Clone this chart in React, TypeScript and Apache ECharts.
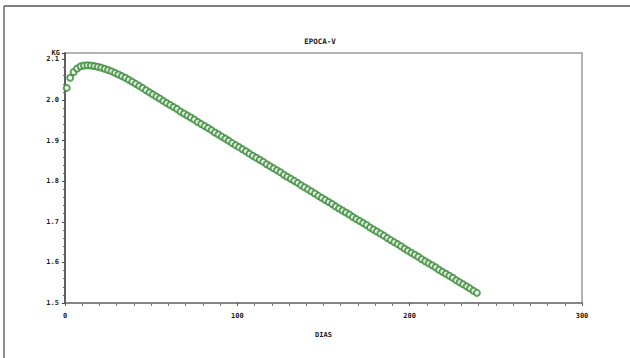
import React, { useEffect, useRef } from "react";
import * as echarts from "echarts";

// Weight (KG) by day (DIAS)
const days = [
  1, 3, 5, 7, 9, 11, 13, 15, 17, 19, 21, 23, 25, 27, 29, 31, 33, 35, 37, 39,
  41, 43, 45, 47, 49, 51, 53, 55, 57, 59, 61, 63, 65, 67, 69, 71, 73, 75, 77, 79,
  81, 83, 85, 87, 89, 91, 93, 95, 97, 99, 101, 103, 105, 107, 109, 111, 113, 115, 117, 119,
  121, 123, 125, 127, 129, 131, 133, 135, 137, 139, 141, 143, 145, 147, 149, 151, 153, 155, 157, 159,
  161, 163, 165, 167, 169, 171, 173, 175, 177, 179, 181, 183, 185, 187, 189, 191, 193, 195, 197, 199,
  201, 203, 205, 207, 209, 211, 213, 215, 217, 219, 221, 223, 225, 227, 229, 231, 233, 235, 237, 239,
];
const kg = [
  2.030, 2.055, 2.069, 2.078, 2.083, 2.085, 2.086, 2.085, 2.084, 2.082,
  2.080, 2.077, 2.074, 2.071, 2.067, 2.063, 2.059, 2.055, 2.050, 2.045,
  2.040, 2.035, 2.030, 2.024, 2.019, 2.014, 2.009, 2.004, 1.998, 1.993,
  1.988, 1.983, 1.978, 1.972, 1.967, 1.962, 1.957, 1.952, 1.946, 1.941,
  1.936, 1.931, 1.926, 1.920, 1.915, 1.910, 1.905, 1.900, 1.894, 1.889,
  1.884, 1.879, 1.874, 1.868, 1.863, 1.858, 1.853, 1.848, 1.842, 1.837,
  1.832, 1.827, 1.822, 1.816, 1.811, 1.806, 1.801, 1.796, 1.790, 1.785,
  1.780, 1.775, 1.770, 1.764, 1.759, 1.754, 1.749, 1.744, 1.738, 1.733,
  1.728, 1.723, 1.718, 1.712, 1.707, 1.702, 1.697, 1.692, 1.686, 1.681,
  1.676, 1.671, 1.666, 1.660, 1.655, 1.650, 1.645, 1.640, 1.634, 1.629,
  1.624, 1.619, 1.614, 1.608, 1.603, 1.598, 1.593, 1.588, 1.582, 1.577,
  1.572, 1.567, 1.562, 1.556, 1.551, 1.546, 1.541, 1.536, 1.530, 1.525,
];
const xTicks = [0, 100, 200, 300];
const yTicks = [1.5, 1.6, 1.7, 1.8, 1.9, 2.0, 2.1];

const titleText = "EPOCA-V";
const xName = "DIAS";
const yName = "KG";

const labelFont = {
  fontFamily: "DejaVu Sans Mono",
  fontWeight: "bold" as const,
  fontSize: 7,
  color: "#1a1a1a",
};

export default function App() {
  const ref = useRef<HTMLDivElement>(null);

  useEffect(() => {
    if (!ref.current) return;
    const chart = echarts.init(ref.current, null, { renderer: "svg" });
    const points = days.map((d, i) => [d, kg[i]]);

    chart.setOption({
      animation: false,
      backgroundColor: "#fff",
      title: {
        text: titleText,
        left: 315,
        top: 32,
        textAlign: "center",
        textStyle: { ...labelFont, fontSize: 7.5 },
      },
      grid: {
        left: 65,
        right: 48,
        top: 53,
        bottom: 55,
        show: true,
        borderColor: "#9a9a9a",
        borderWidth: 1.5,
      },
      xAxis: {
        type: "value",
        min: xTicks[0],
        max: xTicks[xTicks.length - 1],
        interval: 100,
        name: xName,
        nameLocation: "middle",
        nameGap: 28,
        nameTextStyle: labelFont,
        axisLine: { show: true, lineStyle: { color: "#777", width: 1.5 } },
        axisTick: { show: true, length: 3, lineStyle: { color: "#555" } },
        minorTick: { show: true, splitNumber: 10, length: 3, lineStyle: { color: "#777" } },
        axisLabel: { ...labelFont, margin: 9 },
        splitLine: { show: false },
      },
      yAxis: {
        type: "value",
        min: yTicks[0],
        max: 2.116,
        interval: 0.1,
        name: yName,
        nameLocation: "end",
        nameGap: -4,
        nameTextStyle: { ...labelFont, align: "right", padding: [0, 5, 0, 0] },
        axisLine: { show: true, lineStyle: { color: "#444", width: 1.5 } },
        axisTick: { show: true, length: 3, lineStyle: { color: "#444" } },
        minorTick: { show: true, splitNumber: 5, length: 2, lineStyle: { color: "#666" } },
        axisLabel: {
          ...labelFont,
          margin: 6,
          showMaxLabel: false,
          formatter: (v: number) => {
            const hit = yTicks.find((t) => Math.abs(t - v) < 1e-6);
            return hit === undefined ? "" : hit.toFixed(1);
          },
        },
        splitLine: { show: false },
      },
      series: [
        {
          type: "scatter",
          data: points,
          symbol: "emptyCircle",
          symbolSize: 6,
          itemStyle: { color: "#3f8f3f", borderColor: "#3f8f3f", borderWidth: 1.2, opacity: 0.85 },
        },
      ],
      graphic: [
        {
          type: "line",
          shape: { x1: 4, y1: 6, x2: 630, y2: 6 },
          style: { stroke: "#555", lineWidth: 1.5 },
        },
        {
          type: "line",
          shape: { x1: 4, y1: 6, x2: 4, y2: 358 },
          style: { stroke: "#666", lineWidth: 1.5 },
        },
      ],
    });

    return () => chart.dispose();
  }, []);

  return (
    <div
      ref={ref}
      style={{ position: "fixed", left: 0, top: 0, width: 630, height: 358 }}
    />
  );
}
